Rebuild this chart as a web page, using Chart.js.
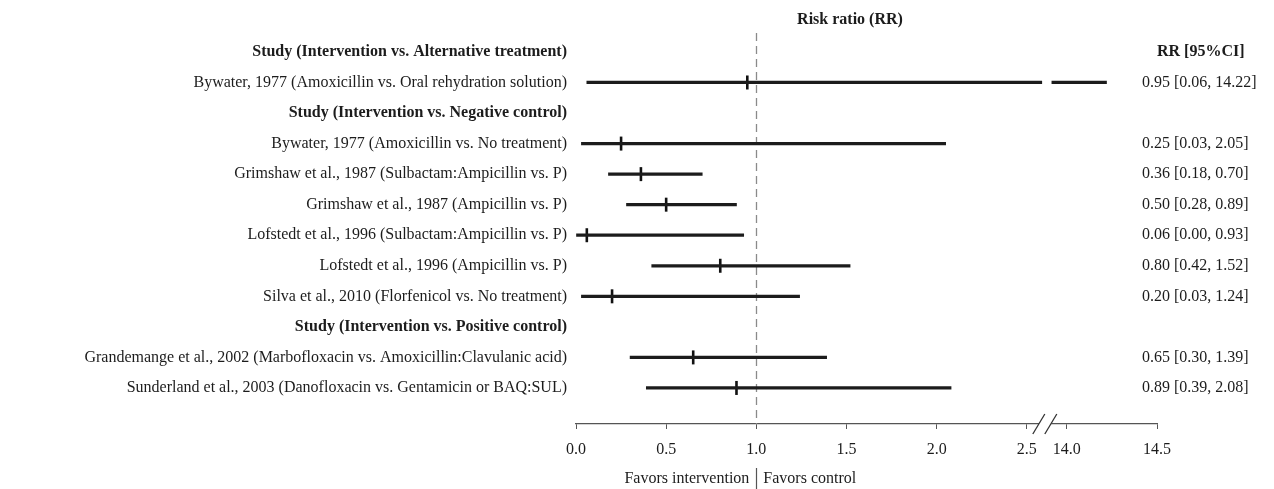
<!DOCTYPE html>
<html>
<head>
<meta charset="utf-8">
<script src="https://cdn.jsdelivr.net/npm/chart.js@4.4.1/dist/chart.umd.min.js"></script>
<style>
  html, body { margin: 0; padding: 0; background: #fff; }
  #wrap { width: 1274px; height: 489px; }
</style>
</head>
<body>
<div id="wrap"><canvas id="forest"></canvas></div>
<script>
// rows of the forest plot (headers have no values)
const studies = [
  "Study (Intervention vs. Alternative treatment)",
  "Bywater, 1977 (Amoxicillin vs. Oral rehydration solution)",
  "Study (Intervention vs. Negative control)",
  "Bywater, 1977 (Amoxicillin vs. No treatment)",
  "Grimshaw et al., 1987 (Sulbactam:Ampicillin vs. P)",
  "Grimshaw et al., 1987 (Ampicillin vs. P)",
  "Lofstedt et al., 1996 (Sulbactam:Ampicillin vs. P)",
  "Lofstedt et al., 1996 (Ampicillin vs. P)",
  "Silva et al., 2010 (Florfenicol vs. No treatment)",
  "Study (Intervention vs. Positive control)",
  "Grandemange et al., 2002 (Marbofloxacin vs. Amoxicillin:Clavulanic acid)",
  "Sunderland et al., 2003 (Danofloxacin vs. Gentamicin or BAQ:SUL)"
];
const rr    = [null, 0.95, null, 0.25, 0.36, 0.50, 0.06, 0.80, 0.20, null, 0.65, 0.89];
const lower = [null, 0.06, null, 0.03, 0.18, 0.28, 0.00, 0.42, 0.03, null, 0.30, 0.39];
const upper = [null, 14.22, null, 2.05, 0.70, 0.89, 0.93, 1.52, 1.24, null, 1.39, 2.08];

const tickValues = [0, 0.5, 1, 1.5, 2, 2.5, 14, 14.5];
const tickLabels = ["0.0", "0.5", "1.0", "1.5", "2.0", "2.5", "14.0", "14.5"];

// broken axis: 2.5 ... 14.0 squeezed into a small gap
const BREAK_LO = 2.5, BREAK_HI = 14.0, GAP = 0.222;
function toAxis(v) {
  if (v <= BREAK_LO) return v;
  return v - BREAK_HI + BREAK_LO + GAP;
}
const breakMid = BREAK_LO + GAP / 2;

const FONT = "'Liberation Serif', 'Times New Roman', serif";
const TXT = "#1c1c1c";

// CI segments (split at the break when needed)
const ciData = [];
const pointData = [];
studies.forEach((s, i) => {
  if (rr[i] == null) return;
  if (upper[i] > BREAK_HI) {
    ciData.push({ x: [toAxis(lower[i]), breakMid - 0.028], y: i });
    ciData.push({ x: [breakMid + 0.028, toAxis(upper[i])], y: i });
  } else {
    ciData.push({ x: [toAxis(lower[i]), toAxis(upper[i])], y: i });
  }
  pointData.push({ x: toAxis(rr[i]), y: i });
});

const forestExtras = {
  id: "forestExtras",
  beforeDatasetsDraw(chart) {
    const ctx = chart.ctx, xs = chart.scales.x, area = chart.chartArea;
    const x1 = Math.round(xs.getPixelForValue(1)) + 0.5;
    ctx.save();
    ctx.strokeStyle = "#8a8a8a";
    ctx.lineWidth = 1.3;
    ctx.setLineDash([8, 5]);
    ctx.beginPath();
    ctx.moveTo(x1, area.top);
    ctx.lineTo(x1, area.bottom);
    ctx.stroke();
    ctx.restore();
  },
  afterDraw(chart) {
    const ctx = chart.ctx, xs = chart.scales.x, ys = chart.scales.y, area = chart.chartArea;
    ctx.save();
    // axis break marks
    const bx = xs.getPixelForValue(breakMid) - 2, by = area.bottom;
    ctx.fillStyle = "#fff";
    ctx.beginPath();
    ctx.moveTo(bx - 12, by + 10); ctx.lineTo(bx, by - 10);
    ctx.lineTo(bx + 12, by - 10); ctx.lineTo(bx, by + 10);
    ctx.closePath(); ctx.fill();
    ctx.strokeStyle = "#333";
    ctx.lineWidth = 1.3;
    [-6, 6].forEach(d => {
      ctx.beginPath();
      ctx.moveTo(bx + d - 6, by + 10);
      ctx.lineTo(bx + d + 6, by - 10);
      ctx.stroke();
    });
    // right column
    const colX = 1142;
    ctx.fillStyle = TXT;
    ctx.textBaseline = "middle";
    ctx.textAlign = "left";
    ctx.font = "bold 16px " + FONT;
    ctx.fillText("RR [95%CI]", colX + 15, ys.getPixelForValue(0));
    ctx.font = "16px " + FONT;
    studies.forEach((s, i) => {
      if (rr[i] == null) return;
      const txt = rr[i].toFixed(2) + " [" + lower[i].toFixed(2) + ", " + upper[i].toFixed(2) + "]";
      ctx.fillText(txt, colX, ys.getPixelForValue(i));
    });
    // title
    ctx.textAlign = "center";
    ctx.font = "bold 16px " + FONT;
    ctx.fillText("Risk ratio (RR)", 850, 20);
    // favors labels with separator
    const x1 = xs.getPixelForValue(1);
    ctx.font = "16px " + FONT;
    ctx.textAlign = "right";
    ctx.fillText("Favors intervention", x1 - 7, chart.height - 10);
    ctx.textAlign = "left";
    ctx.fillText("Favors control", x1 + 7, chart.height - 10);
    ctx.strokeStyle = "#555";
    ctx.lineWidth = 1.2;
    ctx.beginPath();
    ctx.moveTo(Math.round(x1) + 0.5, chart.height - 21);
    ctx.lineTo(Math.round(x1) + 0.5, chart.height);
    ctx.stroke();
    ctx.restore();
  }
};

new Chart(document.getElementById("forest"), {
  data: {
    datasets: [
      {
        type: "bar",
        indexAxis: "y",
        data: ciData,
        backgroundColor: "#1c1c1c",
        borderWidth: 0,
        barThickness: 2.6
      },
      {
        type: "scatter",
        data: pointData,
        pointStyle: "line",
        rotation: 90,
        radius: 7,
        borderWidth: 2.6,
        borderColor: "#111",
        backgroundColor: "#111"
      }
    ]
  },
  options: {
    responsive: true,
    maintainAspectRatio: false,
    animation: false,
    layout: { padding: { top: 33, right: 117, bottom: 0, left: 0 } },
    plugins: { legend: { display: false }, tooltip: { enabled: false }, title: { display: false } },
    scales: {
      x: {
        type: "linear",
        min: 0,
        max: toAxis(14.5),
        offset: false,
        afterBuildTicks: scale => { scale.ticks = tickValues.map(v => ({ value: toAxis(v) })); },
        afterFit: scale => { scale.height = 65; },
        ticks: {
          autoSkip: false,
          maxRotation: 0,
          padding: 11,
          color: TXT,
          font: { family: FONT, size: 16 },
          callback: (v, i) => tickLabels[i]
        },
        grid: { drawOnChartArea: false, drawTicks: true, tickLength: 5, color: "#555" },
        border: { display: true, color: "#555", width: 1.3 }
      },
      y: {
        type: "linear",
        reverse: true,
        min: -0.62,
        max: 12.18,
        offset: false,
        afterBuildTicks: scale => { scale.ticks = studies.map((s, i) => ({ value: i })); },
        afterFit: scale => { scale.width = 576; },
        ticks: {
          autoSkip: false,
          padding: 9,
          color: TXT,
          font: ctx => ({ family: FONT, size: 16, weight: rr[ctx.index] == null ? "bold" : "normal" }),
          callback: (v, i) => studies[i]
        },
        grid: { display: false, drawTicks: false },
        border: { display: false }
      }
    }
  },
  plugins: [forestExtras]
});
</script>
</body>
</html>
